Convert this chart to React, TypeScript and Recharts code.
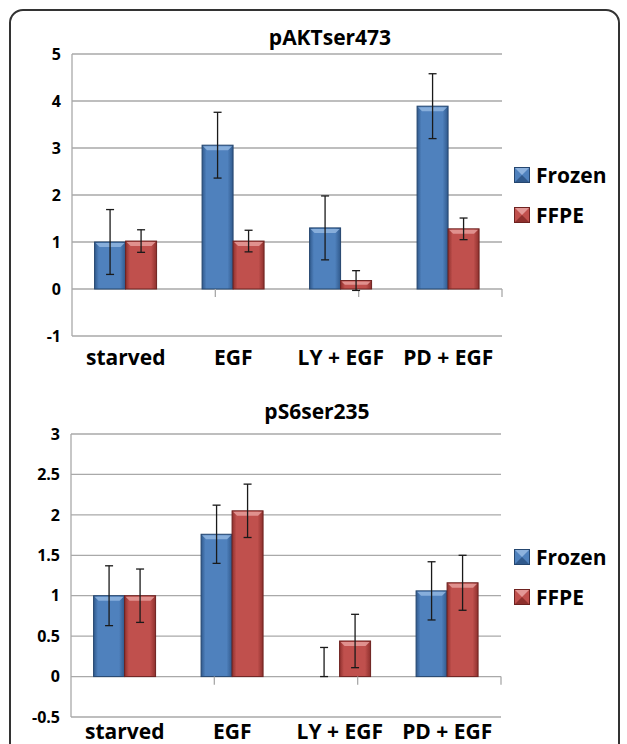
import React from 'react';
import { BarChart, Bar, XAxis, YAxis, CartesianGrid, ErrorBar, Legend, ReferenceLine } from 'recharts';

const categories = ['starved', 'EGF', 'LY + EGF', 'PD + EGF'];
const seriesNames = ['Frozen', 'FFPE'];

// pAKTser473
const aktFrozen = [1.0, 3.06, 1.3, 3.89];
const aktFrozenErr = [0.69, 0.7, 0.68, 0.69];
const aktFfpe = [1.02, 1.02, 0.18, 1.28];
const aktFfpeErr = [0.24, 0.23, 0.21, 0.23];
const aktTicks = [-1, 0, 1, 2, 3, 4, 5];

// pS6ser235 (LY + EGF frozen only has the upper whisker)
const s6Frozen = [1.0, 1.76, 0, 1.06];
const s6FrozenErr = [[0.37, 0.37], [0.36, 0.36], [0, 0.36], [0.36, 0.36]];
const s6Ffpe = [1.0, 2.05, 0.44, 1.16];
const s6FfpeErr = [0.33, 0.33, 0.33, 0.34];
const s6Ticks = [-0.5, 0, 0.5, 1, 1.5, 2, 2.5, 3];

const FONT = '"Open Sans", sans-serif';
const TONES: Record<string, { base: string; dark: string; light: string; edge: string }> = {
  blue: { base: '#4f81bd', dark: '#30598c', light: '#8db2de', edge: '#25466f' },
  red: { base: '#c0504d', dark: '#8e302d', light: '#e39896', edge: '#6e2220' },
};

const buildRows = (a: number[], aErr: any[], b: number[], bErr: any[]) =>
  categories.map((name, i) => ({ name, frozen: a[i], frozenErr: aErr[i], ffpe: b[i], ffpeErr: bErr[i] }));

const BevelBar = (props: any) => {
  const { x, y, width, height, tone } = props;
  if (!height || height < 0.5) return null;
  const c = TONES[tone];
  const b = Math.min(5, height / 2, width / 4);
  return (
    <g>
      <rect x={x} y={y} width={width} height={height} fill={`url(#grad-${tone})`} stroke={c.edge} strokeWidth={1} />
      <polygon
        points={`${x + 1},${y + 1} ${x + width - 1},${y + 1} ${x + width - b},${y + b} ${x + b},${y + b}`}
        fill={c.light}
        opacity={0.9}
      />
    </g>
  );
};

const Swatch = ({ tone }: { tone: string }) => {
  const c = TONES[tone];
  return (
    <svg width={16} height={16} style={{ display: 'block' }}>
      <rect x={0.5} y={0.5} width={15} height={15} fill={c.base} stroke={c.edge} />
      <polygon points="1,1 15,1 8,8" fill={c.light} />
      <polygon points="1,15 15,15 8,8" fill={c.dark} />
    </svg>
  );
};

const legendContent = () => (
  <div style={{ fontFamily: FONT, fontWeight: 700, fontSize: 21, color: '#000' }}>
    {seriesNames.map((n, i) => (
      <div key={n} style={{ display: 'flex', alignItems: 'center', height: 24, marginBottom: i === 0 ? 16 : 0 }}>
        <Swatch tone={i === 0 ? 'blue' : 'red'} />
        <span style={{ marginLeft: 6 }}>{n}</span>
      </div>
    ))}
  </div>
);

const Gradients = () => (
  <defs>
    {Object.keys(TONES).map((k) => (
      <linearGradient key={k} id={`grad-${k}`} x1="0" y1="0" x2="1" y2="0">
        <stop offset="0" stopColor={TONES[k].dark} />
        <stop offset="0.14" stopColor={TONES[k].base} />
        <stop offset="0.82" stopColor={TONES[k].base} />
        <stop offset="1" stopColor={TONES[k].dark} />
      </linearGradient>
    ))}
  </defs>
);

interface PanelProps {
  rows: any[];
  domain: [number, number];
  ticks: number[];
  margin: { top: number; right: number; bottom: number; left: number };
  xHeight: number;
  tickMargin: number;
  yWidth: number;
  dip: number;
  legendTop: number;
}

const Panel = ({ rows, domain, ticks, margin, xHeight, tickMargin, yWidth, dip, legendTop }: PanelProps) => (
  <BarChart width={611} height={372} data={rows} margin={margin} barGap={0} barCategoryGap="21%">
    <Gradients />
    <CartesianGrid vertical={false} stroke="#a9a9a9" strokeWidth={1.3} />
    <XAxis
      dataKey="name"
      axisLine={false}
      tickLine={false}
      height={xHeight}
      tickMargin={tickMargin}
      interval={0}
      tick={{ fontFamily: FONT, fontWeight: 700, fontSize: 21, fill: '#000' }}
    />
    <XAxis xAxisId="slots" type="number" domain={[0, 4]} hide />
    <YAxis
      domain={domain}
      ticks={ticks}
      width={yWidth}
      interval={0}
      tickLine={false}
      axisLine={{ stroke: '#a9a9a9', strokeWidth: 1.3 }}
      tickMargin={5}
      tick={{ fontFamily: FONT, fontWeight: 700, fontSize: 16, fill: '#000' }}
    />
    {[1, 2, 3, 4].map((s) => (
      <ReferenceLine
        key={s}
        xAxisId="slots"
        segment={[{ x: s, y: 0 }, { x: s, y: dip }]}
        stroke="#a9a9a9"
        strokeWidth={1.3}
      />
    ))}
    <Legend
      layout="horizontal"
      verticalAlign="middle"
      align="center"
      content={legendContent}
      wrapperStyle={{ left: 506, top: legendTop, width: 110 }}
    />
    <Bar dataKey="frozen" name="Frozen" isAnimationActive={false} shape={(p: any) => <BevelBar {...p} tone="blue" />}>
      <ErrorBar dataKey="frozenErr" width={4} stroke="#1a1a1a" strokeWidth={1.3} />
    </Bar>
    <Bar dataKey="ffpe" name="FFPE" isAnimationActive={false} shape={(p: any) => <BevelBar {...p} tone="red" />}>
      <ErrorBar dataKey="ffpeErr" width={4} stroke="#1a1a1a" strokeWidth={1.3} />
    </Bar>
  </BarChart>
);

const titleStyle = (cx: number, cy: number): React.CSSProperties => ({
  position: 'absolute',
  left: cx - 100,
  top: cy - 15,
  width: 200,
  height: 30,
  lineHeight: '30px',
  textAlign: 'center',
  fontFamily: FONT,
  fontWeight: 700,
  fontSize: 21,
  color: '#000',
});

export default function App() {
  const aktRows = buildRows(aktFrozen, aktFrozenErr, aktFfpe, aktFfpeErr);
  const s6Rows = buildRows(s6Frozen, s6FrozenErr, s6Ffpe, s6FfpeErr);
  return (
    <div style={{ position: 'fixed', left: 0, top: 0, width: 627, height: 744, overflow: 'hidden', background: '#fff' }}>
      <div
        style={{
          position: 'absolute',
          left: 9,
          top: 9,
          width: 611,
          height: 760,
          boxSizing: 'border-box',
          border: '2px solid #333',
          borderRadius: 14,
        }}
      />
      <div style={titleStyle(330, 37)}>pAKTser473</div>
      <div style={{ position: 'absolute', left: 8, top: 8 }}>
        <Panel
          rows={aktRows}
          domain={[-1, 5]}
          ticks={aktTicks}
          margin={{ top: 46, right: 117, bottom: 14, left: 0 }}
          xHeight={30}
          tickMargin={8}
          yWidth={64}
          dip={-0.17}
          legendTop={155}
        />
      </div>
      <div style={titleStyle(317, 411)}>pS6ser235</div>
      <div style={{ position: 'absolute', left: 8, top: 372 }}>
        <Panel
          rows={s6Rows}
          domain={[-0.5, 3]}
          ticks={s6Ticks}
          margin={{ top: 62, right: 118, bottom: 0, left: 0 }}
          xHeight={27}
          tickMargin={1}
          yWidth={63}
          dip={-0.1}
          legendTop={173}
        />
      </div>
    </div>
  );
}
